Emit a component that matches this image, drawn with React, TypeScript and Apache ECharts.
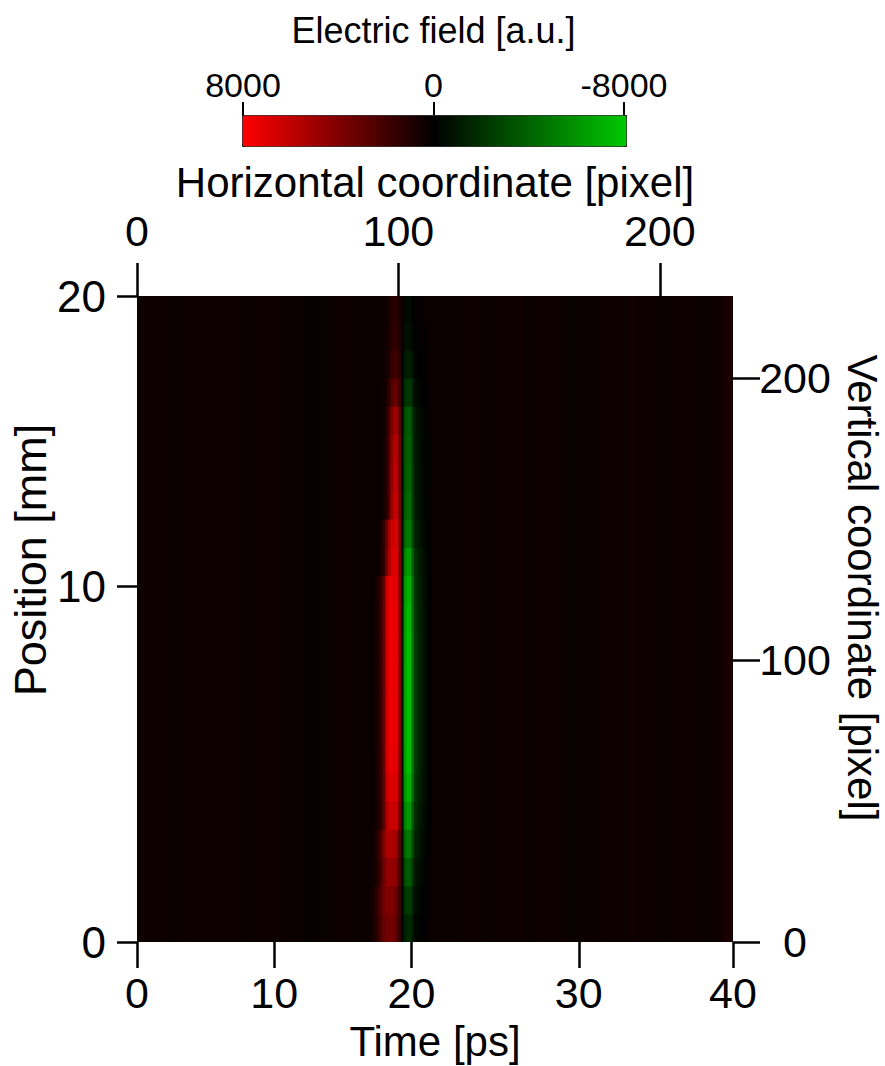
import React, { useEffect, useRef } from "react";
import * as echarts from "echarts";

// ---------------- data ----------------
// Axis tick values
const horizTicks = [0, 100, 200]; // top axis, horizontal coordinate [pixel]
const vertTicks = [0, 100, 200]; // right axis, vertical coordinate [pixel]
const timeTickLabels = [0, 10, 20, 30, 40]; // bottom axis, Time [ps]
const timeTickAtPixel = [0, 52.5, 105, 169, 228]; // where each time tick sits, in horizontal pixels
const positionTickLabels = [0, 10, 20]; // left axis, Position [mm]
const positionTickAtPixel = [0, 126, 229]; // where each position tick sits, in vertical pixels
const colorbarTicks = [8000, 0, -8000];

// image extent (pixels)
const IMG_W = 228;
const IMG_H = 229;
const ROW_H = 10; // vertical pixels per row of the pulse region
const BG_CELL = 4; // horizontal pixels per background column
const PULSE_START = 84;
const PULSE_END = 124;

// background field columns (faint streaks), left of the pulse (0..84) and right of it (124..228)
const bgLeft = [420, 400, 380, 360, 380, 400, 380, 480, 440, 380, 360, 380, 420, 380, 340, 300, 260, 280, 320, 380, 400];
const bgRight = [450, 380, 300, 380, 420, 480, 300, 400, 380, 420, 280, 380, 300, 400, 380, 420, 500, 400, 380, 360, 380, 400, 380, 300, 450, 750];
const pulseBg = 350;

// per row (bottom -> top, 10 vertical pixels each)
const redAmp = [3200, 3600, 4300, 5100, 5900, 6500, 6900, 7000, 7000, 7000, 7000, 7000, 6900, 6700, 6400, 5800, 5500, 5300, 4600, 2800, 1600, 1100, 900];
const redShapeIdx = [0, 0, 1, 1, 2, 2, 2, 2, 2, 2, 2, 2, 2, 3, 3, 4, 4, 4, 4, 4, 4, 4, 4];
const greenAmp = [-2000, -2800, -4000, -5200, -6400, -7400, -7900, -8000, -8000, -8000, -7900, -7700, -7400, -6600, -5200, -4600, -4300, -4200, -4000, -2600, -1600, -1000, -700];

// pulse shapes: red lobe read leftwards from pixel 100, green lobe read rightwards from pixel 101
const RED_EDGE = 100;
const GREEN_EDGE = 101;
const redShapes = [
  [0.35, 0.75, 0.95, 1, 1, 1, 0.9, 0.7, 0.45, 0.25, 0.12, 0.05], // wide (bottom)
  [0.4, 0.85, 1, 1, 1, 0.95, 0.75, 0.45, 0.25, 0.12, 0.05],
  [0.5, 1, 1, 1, 1, 0.85, 0.45, 0.2, 0.1, 0.05], // middle
  [0.5, 1, 1, 0.95, 0.75, 0.45, 0.2, 0.08],
  [0.5, 1, 1, 0.8, 0.4, 0.15, 0.05], // narrow (top)
];
const greenShape = [0.15, 0.85, 1, 1, 0.6, 0.35, 0.25, 0.2, 0.15, 0.1, 0.06, 0.03];

// ---------------- build cells ----------------
function buildCells(): number[][] {
  const cells: number[][] = [];
  bgLeft.forEach((v, i) => cells.push([i * BG_CELL, (i + 1) * BG_CELL, 0, IMG_H, v]));
  bgRight.forEach((v, i) =>
    cells.push([PULSE_END + i * BG_CELL, PULSE_END + (i + 1) * BG_CELL, 0, IMG_H, v])
  );
  for (let r = 0; r < redAmp.length; r++) {
    const y0 = r * ROW_H;
    const y1 = Math.min(IMG_H, (r + 1) * ROW_H);
    const rs = redShapes[redShapeIdx[r]];
    for (let u = PULSE_START; u < PULSE_END; u++) {
      let v = pulseBg;
      const k = RED_EDGE - u;
      if (k >= 0 && k < rs.length) v += redAmp[r] * rs[k];
      const j = u - GREEN_EDGE;
      if (j >= 0 && j < greenShape.length) v += greenAmp[r] * greenShape[j];
      v = Math.max(-8000, Math.min(8000, v));
      cells.push([u, u + 1, y0, y1, v]);
    }
  }
  return cells;
}

const FONT = "Liberation Sans, Arial, Helvetica, sans-serif";
const tickStyle = { color: "#000", width: 2.5 };
const noLine = { show: false, onZero: false };

export default function App() {
  const ref = useRef<HTMLDivElement>(null);
  useEffect(() => {
    if (!ref.current) return;
    const chart = echarts.init(ref.current, undefined, { renderer: "svg" });
    const cells = buildCells();
    const option: any = {
      animation: false,
      textStyle: { fontFamily: FONT, color: "#000" },
      grid: [
        {
          left: 137,
          top: 296,
          width: 596,
          height: 646,
          show: true,
          backgroundColor: "#0b0000",
          borderWidth: 0,
          containLabel: false,
          outerBoundsMode: "none",
        },
        { left: 243, top: 115, width: 381, height: 31, containLabel: false, outerBoundsMode: "none" },
      ],
      xAxis: [
        {
          gridIndex: 0,
          type: "value",
          position: "top",
          min: 0,
          max: IMG_W,
          axisLine: noLine,
          splitLine: { show: false },
          axisTick: { show: true, customValues: horizTicks, length: 33, lineStyle: tickStyle },
          axisLabel: { customValues: horizTicks, fontSize: 43, margin: 44, color: "#000", fontFamily: FONT },
          name: "Horizontal coordinate [pixel]",
          nameLocation: "middle",
          nameMoveOverlap: false,
          nameGap: 93,
          nameTextStyle: { fontSize: 42, color: "#000", fontFamily: FONT },
        },
        {
          gridIndex: 0,
          type: "value",
          position: "bottom",
          min: 0,
          max: IMG_W,
          axisLine: noLine,
          splitLine: { show: false },
          axisTick: { show: true, customValues: timeTickAtPixel, length: 26, lineStyle: tickStyle },
          axisLabel: {
            customValues: timeTickAtPixel,
            fontSize: 43,
            lineHeight: 36,
            margin: 33,
            color: "#000",
            fontFamily: FONT,
            formatter: (v: number) => {
              const i = timeTickAtPixel.findIndex((p) => Math.abs(p - v) < 1e-6);
              return i >= 0 ? String(timeTickLabels[i]) : "";
            },
          },
          name: "Time [ps]",
          nameLocation: "middle",
          nameMoveOverlap: false,
          nameGap: 78,
          nameTextStyle: { fontSize: 42, color: "#000", fontFamily: FONT },
        },
        {
          gridIndex: 1,
          type: "value",
          position: "top",
          min: -8000,
          max: 8000,
          inverse: true,
          axisLine: noLine,
          splitLine: { show: false },
          axisTick: { show: true, customValues: colorbarTicks, length: 13, lineStyle: { color: "#000", width: 2 } },
          axisLabel: {
            customValues: colorbarTicks,
            fontSize: 34,
            margin: 13,
            color: "#000",
            fontFamily: FONT,
            formatter: (v: number) => String(v),
          },
          name: "Electric field [a.u.]",
          nameLocation: "middle",
          nameMoveOverlap: false,
          nameGap: 67,
          nameTextStyle: { fontSize: 36, color: "#000", fontFamily: FONT },
        },
      ],
      yAxis: [
        {
          gridIndex: 0,
          type: "value",
          position: "right",
          min: 0,
          max: IMG_H,
          axisLine: noLine,
          splitLine: { show: false },
          axisTick: { show: true, customValues: vertTicks, length: 27, lineStyle: tickStyle },
          axisLabel: {
            customValues: vertTicks,
            fontSize: 43,
            margin: 62,
            align: "center",
            color: "#000",
            fontFamily: FONT,
          },
          name: "Vertical coordinate [pixel]",
          nameLocation: "middle",
          nameMoveOverlap: false,
          nameRotate: -90,
          nameGap: 108,
          nameTextStyle: { fontSize: 42, color: "#000", fontFamily: FONT, padding: [0, 62, 0, 0] },
        },
        {
          gridIndex: 0,
          type: "value",
          position: "left",
          min: 0,
          max: IMG_H,
          axisLine: noLine,
          splitLine: { show: false },
          axisTick: { show: true, customValues: positionTickAtPixel, length: 20, lineStyle: tickStyle },
          axisLabel: {
            customValues: positionTickAtPixel,
            fontSize: 44,
            margin: 31,
            color: "#000",
            fontFamily: FONT,
            formatter: (v: number) => {
              const i = positionTickAtPixel.findIndex((p) => Math.abs(p - v) < 1e-6);
              return i >= 0 ? String(positionTickLabels[i]) : "";
            },
          },
          name: "Position [mm]",
          nameLocation: "middle",
          nameMoveOverlap: false,
          nameGap: 84,
          nameTextStyle: { fontSize: 45, color: "#000", fontFamily: FONT, padding: [0, 0, 0, 118] },
        },
        { gridIndex: 1, type: "value", show: false, min: 0, max: 1, axisLine: noLine },
      ],
      visualMap: [
        {
          type: "continuous",
          seriesIndex: 0,
          dimension: 4,
          min: -8000,
          max: 8000,
          orient: "horizontal",
          inverse: true,
          left: 242,
          top: 115,
          itemWidth: 31,
          itemHeight: 384,
          calculable: false,
          hoverLink: false,
          padding: 0,
          borderWidth: 1,
          borderColor: "#000",
          inRange: { color: ["#00c800", "#000000", "#ff0000"] },
        },
      ],
      series: [
        {
          type: "custom",
          xAxisIndex: 0,
          yAxisIndex: 0,
          clip: true,
          dimensions: ["x0", "x1", "y0", "y1", "field"],
          encode: { x: [0, 1], y: [2, 3] },
          data: cells,
          renderItem: (params: any, api: any) => {
            const pTL = api.coord([api.value(0), api.value(3)]);
            const pBR = api.coord([api.value(1), api.value(2)]);
            return {
              type: "rect",
              shape: {
                x: pTL[0],
                y: pTL[1],
                width: pBR[0] - pTL[0] + 0.7,
                height: pBR[1] - pTL[1] + 0.7,
              },
              style: { fill: api.visual("color") },
            };
          },
        },
      ],
    };
    chart.setOption(option);
    return () => chart.dispose();
  }, []);
  return (
    <div
      ref={ref}
      style={{ position: "absolute", left: 0, top: 0, width: 885, height: 1066, background: "#fff" }}
    />
  );
}
